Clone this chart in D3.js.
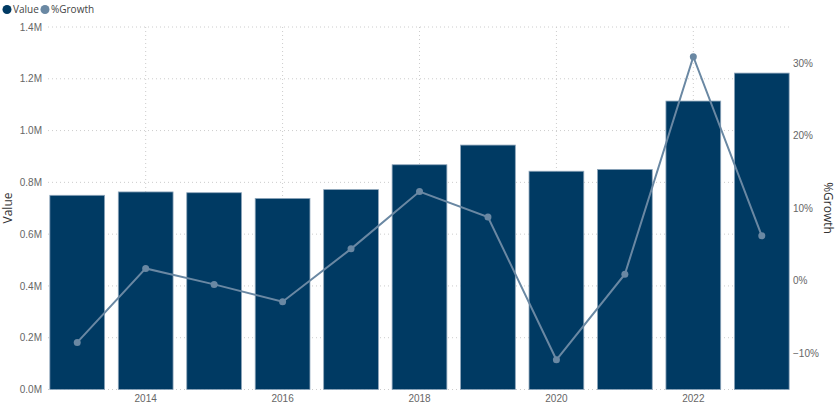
<!DOCTYPE html>
<html>
<head>
<meta charset="utf-8">
<script src="https://cdn.jsdelivr.net/npm/d3@7"></script>
<style>
  body { margin: 0; background: #fff; font-family: "Open Sans", "DejaVu Sans", sans-serif; }
  .tick text { fill: #666; font-size: 10px; }
</style>
</head>
<body>
<svg id="chart" width="836" height="404"></svg>
<script>
const years = [2013, 2014, 2015, 2016, 2017, 2018, 2019, 2020, 2021, 2022, 2023];
const values = [0.750, 0.763, 0.760, 0.738, 0.772, 0.868, 0.944, 0.843, 0.850, 1.114, 1.222];
const growth = [-0.085, 0.017, -0.005, -0.029, 0.044, 0.123, 0.088, -0.109, 0.009, 0.309, 0.062];
const leftTicks = [0, 0.2, 0.4, 0.6, 0.8, 1.0, 1.2, 1.4];
const rightTicks = [-0.1, 0, 0.1, 0.2, 0.3];
const xLabels = [2014, 2016, 2018, 2020, 2022];

const svg = d3.select("#chart");
const barColor = "#003a63", lineColor = "#6a88a3";

const x = d3.scaleBand().domain(years).range([43, 796]).paddingInner(0.2).paddingOuter(0.1);
const y = d3.scaleLinear().domain([0, 1.4]).range([389.5, 27]);
const y2 = d3.scaleLinear().domain([-0.15, 0.35]).range([389.5, 27]);

// gridlines
svg.append("g").selectAll("line").data(leftTicks).join("line")
  .attr("x1", 48).attr("x2", 789)
  .attr("y1", d => y(d)).attr("y2", d => y(d))
  .attr("stroke", "#ccc").attr("stroke-dasharray", "1,3");
svg.append("g").selectAll("line").data(xLabels).join("line")
  .attr("x1", d => x(d) + x.bandwidth() / 2).attr("x2", d => x(d) + x.bandwidth() / 2)
  .attr("y1", 27).attr("y2", 389)
  .attr("stroke", "#ccc").attr("stroke-dasharray", "1,3");

// bars
svg.append("g").selectAll("rect").data(years).join("rect")
  .attr("x", d => x(d)).attr("width", x.bandwidth())
  .attr("y", (d, i) => y(values[i])).attr("height", (d, i) => y(0) - y(values[i]))
  .attr("fill", barColor).attr("stroke", "#8ea6bb").attr("stroke-width", 0.8);

// line
const pts = years.map((d, i) => [x(d) + x.bandwidth() / 2, y2(growth[i])]);
svg.append("path").datum(pts).attr("d", d3.line())
  .attr("fill", "none").attr("stroke", lineColor).attr("stroke-width", 2);
svg.append("g").selectAll("circle").data(pts).join("circle")
  .attr("cx", d => d[0]).attr("cy", d => d[1]).attr("r", 3.5).attr("fill", lineColor);

// axes
const fmtM = d => d.toFixed(1) + "M";
const gl = svg.append("g").attr("transform", "translate(42,0)")
  .call(d3.axisLeft(y).tickValues(leftTicks).tickFormat(fmtM).tickSize(0).tickPadding(0));
const gr = svg.append("g").attr("transform", "translate(793,0)")
  .call(d3.axisRight(y2).tickValues(rightTicks).tickFormat(d3.format(".0%")).tickSize(0).tickPadding(0));
const gb = svg.append("g").attr("transform", "translate(0,391)")
  .call(d3.axisBottom(x).tickValues(xLabels).tickSize(0).tickPadding(4));
[gl, gr, gb].forEach(g => g.select(".domain").remove());

// axis titles
svg.append("text").attr("transform", "translate(12,208) rotate(-90)")
  .attr("text-anchor", "middle").attr("font-size", 12).attr("fill", "#333").text("Value");
svg.append("text").attr("transform", "translate(824,208) rotate(90)")
  .attr("text-anchor", "middle").attr("font-size", 12).attr("fill", "#333").text("%Growth");

// legend
const legend = [["Value", barColor, 7], ["%Growth", lineColor, 45]];
legend.forEach(([t, c, lx]) => {
  svg.append("circle").attr("cx", lx).attr("cy", 9.5).attr("r", 4.5).attr("fill", c);
  svg.append("text").attr("x", lx + 6).attr("y", 13).attr("font-size", 10).attr("fill", "#444").text(t);
});
</script>
</body>
</html>
